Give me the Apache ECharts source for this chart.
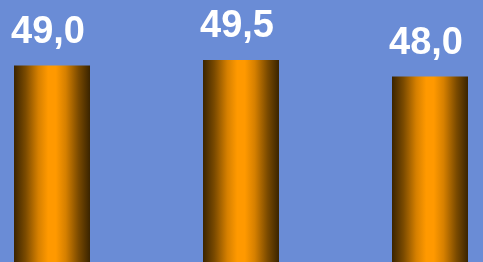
<!DOCTYPE html>
<html><head><meta charset="utf-8">
<script src="https://cdn.jsdelivr.net/npm/echarts@6/dist/echarts.min.js"></script>
<style>html,body{margin:0;padding:0;background:#6a8cd6;}#c{width:483px;height:262px;}</style>
</head><body><div id="c"></div>
<script>
const categories = ['A', 'B', 'C'];
const values = [49.0, 49.5, 48.0];
const valueLabels = ['49,0', '49,5', '48,0'];

const chart = echarts.init(document.getElementById('c'), null, {renderer: 'canvas'});
const grad = new echarts.graphic.LinearGradient(0, 0, 1, 0, [
  {offset: 0, color: '#3a2400'},
  {offset: 0.15, color: '#7a4a00'},
  {offset: 0.32, color: '#d68000'},
  {offset: 0.45, color: '#ff9900'},
  {offset: 0.55, color: '#ff9900'},
  {offset: 0.68, color: '#d68000'},
  {offset: 0.85, color: '#7a4a00'},
  {offset: 1, color: '#3a2400'}
]);
chart.setOption({
  backgroundColor: '#6a8cd6',
  animation: false,
  grid: {left: 0, right: 0, top: 0, bottom: 0, containLabel: false},
  xAxis: {type: 'value', min: -52 / 189, max: 2 + 53 / 189, show: false},
  yAxis: {type: 'value', min: 49.5 - 202 / 11, max: 49.5 + 60 / 11, show: false},
  series: [{
    type: 'bar',
    data: values.map((v, i) => [i, v]),
    barWidth: 76,
    itemStyle: {color: grad},
    label: {
      show: true, position: 'top', distance: 14, offset: [-4, 0],
      color: '#ffffff', fontWeight: 'bold', fontSize: 38,
      fontFamily: 'Liberation Sans, Arial, sans-serif',
      formatter: p => valueLabels[p.dataIndex]
    }
  }]
});
</script></body></html>
